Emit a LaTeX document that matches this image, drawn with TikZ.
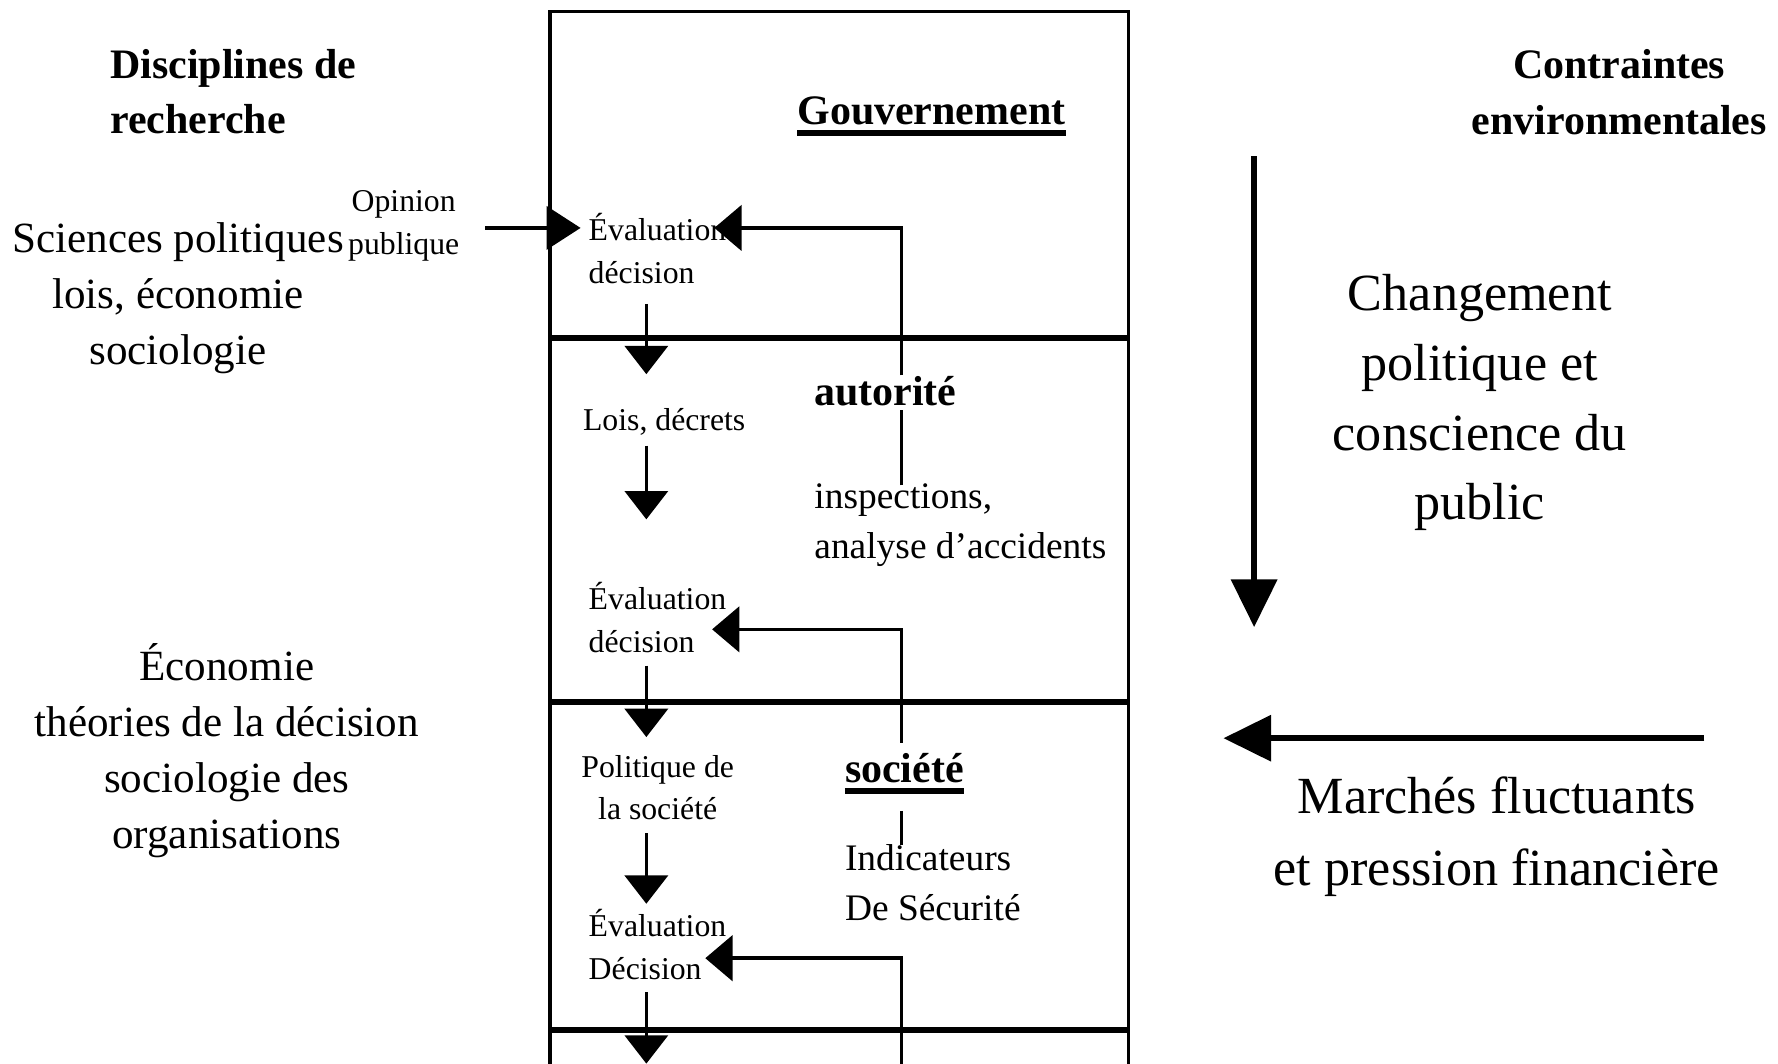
\documentclass[tikz,border=0pt]{standalone}
\usepackage{fontspec}
\setmainfont{Liberation Serif}
\usetikzlibrary{arrows.meta}
\newcommand\szS{\fontsize{28}{37.5}\selectfont}
\newcommand\szM{\fontsize{33}{44}\selectfont}
\newcommand\szL{\fontsize{38}{49.3}\selectfont}
\newcommand\szH{\fontsize{37}{49}\selectfont}
\newcommand\szX{\fontsize{46}{61.5}\selectfont}
\newcommand\szXm{\fontsize{46}{64}\selectfont}
\tikzset{
  txt/.style={inner sep=0pt},
  frame/.style={line width=3pt},
  divider/.style={line width=5.5pt},
  uline/.style={line width=5pt},
  fbline/.style={line width=3pt},
  arr/.style={line width=3pt,-{Triangle[length=25pt,width=38pt]}},
  oparr/.style={line width=3pt,-{Triangle[length=30pt,width=38pt]}},
  fbarr/.style={line width=3pt,-{Triangle[length=24pt,width=40pt]}},
  bigarr/.style={line width=5pt,-{Triangle[length=42pt,width=40pt]}},
}
\begin{document}
\begin{tikzpicture}[x=1pt,y=-1pt]
\useasboundingbox (0,0) rectangle (1568,938);
\clip (0,0) rectangle (1568,938);

% frame of the stacked compartments
\draw[frame] (485,10) rectangle (995,975);
\draw[divider] (485,298) -- (995,298);
\draw[divider] (485,619) -- (995,619);
\draw[divider] (485,908) -- (995,908);

% left column
\node[txt,font=\szH\bfseries,align=left,anchor=west] (disc) at (97,81) {Disciplines de\\recherche};
\node[txt,font=\szL,align=center] (sci) at (157,263) {Sciences politiques\\lois, économie\\sociologie};
\node[txt,font=\szS,align=center] (opin) at (356,199) {Opinion\\publique};
\node[txt,font=\szL,align=center] (eco) at (200,662) {Économie\\théories de la décision\\sociologie des\\organisations};

% inside the frame
\node[txt,font=\szH\bfseries,anchor=base west] (gouv) at (703,109.5) {Gouvernement};
\node[txt,font=\szS,align=left,anchor=west] (ev1) at (519,219) {Évaluation\\décision};
\node[txt,font=\szS,anchor=base west] (lois) at (514,380) {Lois, décrets};
\node[txt,font=\szS,align=left,anchor=west] (ev2) at (519,544.8) {Évaluation\\décision};
\node[txt,font=\szS,align=center] (pol) at (580,694.7) {Politique de\\la société};
\node[txt,font=\szS,align=left,anchor=west] (ev3) at (519,832.8) {Évaluation\\Décision};
\node[txt,font=\szH\bfseries,anchor=base west] (aut) at (718,357.5) {autorité};
\node[txt,font=\szM,align=left,anchor=west] (insp) at (718,462.9) {inspections,\\analyse d’accidents};
\node[txt,font=\szH\bfseries,anchor=base west] (soc) at (745,690.5) {société};
\node[txt,font=\szM,align=left,anchor=west] (ind) at (745,778.7) {Indicateurs\\De Sécurité};

% right column
\node[txt,font=\szH\bfseries,align=center] (cont) at (1428,81.3) {Contraintes\\environmentales};
\node[txt,font=\szX,align=center] (chg) at (1305,355.2) {Changement\\politique et\\conscience du\\public};
\node[txt,font=\szXm,align=center] (mar) at (1320,737.7) {Marchés fluctuants\\et pression financière};

% underlines
\draw[uline] ([yshift=-7.5pt]gouv.base west) -- ([yshift=-7.5pt]gouv.base east);
\draw[uline] ([yshift=-7pt]soc.base west) -- ([yshift=-7pt]soc.base east);

% connector end points
\coordinate (opS) at (428,201);
\coordinate (opT) at (512,201);
\coordinate (d1a) at (570,268); \coordinate (d1b) at (570,330);
\coordinate (d2a) at (570,393); \coordinate (d2b) at (570,458);
\coordinate (d3a) at (570,587); \coordinate (d3b) at (570,650);
\coordinate (d4a) at (570,735); \coordinate (d4b) at (570,797);
\coordinate (d5a) at (570,875); \coordinate (d5b) at (570,938);
\coordinate (f1a) at (795,428); \coordinate (f1b) at (795,362);
\coordinate (f1c) at (795,331); \coordinate (f1t) at (630,201);
\coordinate (f2a) at (795,655); \coordinate (f2t) at (628,555);
\coordinate (f2b) at (795,715); \coordinate (f2c) at (795,745);
\coordinate (f3a) at (795,975); \coordinate (f3t) at (622,845);
\coordinate (vA) at (1106,138); \coordinate (vB) at (1106,553);
\coordinate (hA) at (1503,651); \coordinate (hB) at (1079,651);

% connectors
\draw[oparr] (opS) -- (opT);
\draw[arr] (d1a) -- (d1b);
\draw[arr] (d2a) -- (d2b);
\draw[arr] (d3a) -- (d3b);
\draw[arr] (d4a) -- (d4b);
\draw[arr] (d5a) -- (d5b);
\draw[fbline] (f1a) -- (f1b);
\draw[fbarr] (f1c) |- (f1t);
\draw[fbarr] (f2a) |- (f2t);
\draw[fbline] (f2b) -- (f2c);
\draw[fbarr] (f3a) |- (f3t);
\draw[bigarr] (vA) -- (vB);
\draw[bigarr] (hA) -- (hB);
\end{tikzpicture}
\end{document}
